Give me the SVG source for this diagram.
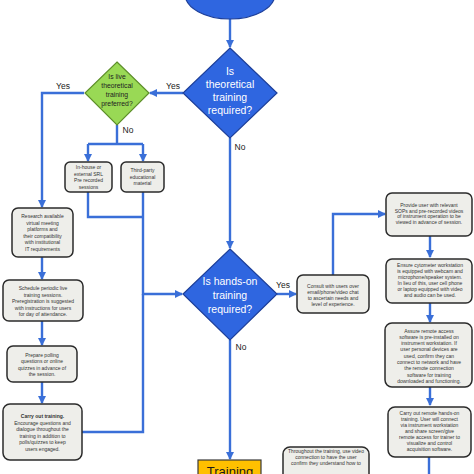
<svg xmlns="http://www.w3.org/2000/svg" width="474" height="474" viewBox="0 0 474 474">
<style>
.bg{fill:#ffffff}
.conn{fill:none;stroke:#3a6fd8;stroke-width:2.4}
.box{fill:#eeeeea;stroke:#2b2b2b;stroke-width:1.5}
.bt{font-family:"Liberation Sans",Arial,sans-serif;font-size:5px;fill:#333333;text-anchor:middle}
.dq{fill:#2f66e0;stroke:#1d3f9a;stroke-width:1.2}
.dt{font-family:"Liberation Sans",Arial,sans-serif;font-size:10.5px;fill:#ffffff;text-anchor:middle}
.gq{fill:#99d955;stroke:#5e8f2a;stroke-width:1.2}
.gt{font-family:"Liberation Sans",Arial,sans-serif;font-size:6.8px;fill:#222222;text-anchor:middle}
.lb{font-family:"Liberation Sans",Arial,sans-serif;font-size:8.5px;fill:#222222;text-anchor:middle}
</style>
<defs>
<marker id="ah" markerUnits="userSpaceOnUse" markerWidth="8" markerHeight="8" viewBox="0 0 8 8" refX="7" refY="4" orient="auto">
<path d="M0,0 L8,4 L0,8 Z" fill="#3a6fd8"/>
</marker>
</defs>
<rect class="bg" x="0" y="0" width="474" height="474"/>

<g id="connectors">
<path class="conn" d="M230,19 V47" marker-end="url(#ah)"/>
<path class="conn" d="M183,93 H150" marker-end="url(#ah)"/>
<path class="conn" d="M84,93 H42 V207" marker-end="url(#ah)"/>
<path class="conn" d="M117,125 V144 M88,144 H143"/>
<path class="conn" d="M88,144 V161" marker-end="url(#ah)"/>
<path class="conn" d="M143,144 V161" marker-end="url(#ah)"/>
<path class="conn" d="M88,192 V217 H143"/>
<path class="conn" d="M143,192 V294 H182" marker-end="url(#ah)"/>
<path class="conn" d="M82,432 H143 V294"/>
<path class="conn" d="M230,138 V248" marker-end="url(#ah)"/>
<path class="conn" d="M42,257 V279" marker-end="url(#ah)"/>
<path class="conn" d="M42,321 V345" marker-end="url(#ah)"/>
<path class="conn" d="M42,382 V403" marker-end="url(#ah)"/>
<path class="conn" d="M277,294 H296" marker-end="url(#ah)"/>
<path class="conn" d="M333,275 V214 H385" marker-end="url(#ah)"/>
<path class="conn" d="M430,236 V257" marker-end="url(#ah)"/>
<path class="conn" d="M430,303 V322" marker-end="url(#ah)"/>
<path class="conn" d="M430,387 V405" marker-end="url(#ah)"/>
<path class="conn" d="M429,457 V474"/>
<path class="conn" d="M230,340 V459" marker-end="url(#ah)"/>
</g>

<g id="labels">
<text class="lb" x="173" y="89">Yes</text>
<text class="lb" x="63" y="89">Yes</text>
<text class="lb" x="128" y="133">No</text>
<text class="lb" x="240" y="150">No</text>
<text class="lb" x="283" y="288">Yes</text>
<text class="lb" x="241" y="350">No</text>
</g>

<g id="start">
<ellipse cx="230" cy="-6" rx="45" ry="25" class="dq"/>
<text class="dt" x="230" y="-3">Remote training</text>
</g>

<g id="q-theoretical">
<polygon class="dq" points="230,48 277,93 230,138 183,93"/>
<text class="dt" x="230" y="75">Is</text>
<text class="dt" x="230" y="88">theoretical</text>
<text class="dt" x="230" y="101">training</text>
<text class="dt" x="230" y="114">required?</text>
</g>

<g id="q-live">
<polygon class="gq" points="117,62 149,93 117,125 85,93"/>
<text class="gt" x="117" y="79">Is live</text>
<text class="gt" x="117" y="88">theoretical</text>
<text class="gt" x="117" y="97">training</text>
<text class="gt" x="117" y="106">preferred?</text>
</g>

<g id="inhouse">
<rect class="box" x="65" y="162" width="47" height="30" rx="5"/>
<text class="bt" x="88.5" y="169">In-house or</text>
<text class="bt" x="88.5" y="175.5">external SRL</text>
<text class="bt" x="88.5" y="182">Pre recorded</text>
<text class="bt" x="88.5" y="188.5">sessions</text>
</g>

<g id="thirdparty">
<rect class="box" x="121" y="162" width="43" height="30" rx="5"/>
<text class="bt" x="142.5" y="172">Third-party</text>
<text class="bt" x="142.5" y="178.5">educational</text>
<text class="bt" x="142.5" y="185">material</text>
</g>

<g id="research">
<rect class="box" x="12" y="208" width="61" height="49" rx="6"/>
<text class="bt" x="42.5" y="218">Research available</text>
<text class="bt" x="42.5" y="224.6">virtual meeting</text>
<text class="bt" x="42.5" y="231.2">platforms and</text>
<text class="bt" x="42.5" y="237.8">their compatibility</text>
<text class="bt" x="42.5" y="244.4">with institutional</text>
<text class="bt" x="42.5" y="251">IT requirements</text>
</g>

<g id="schedule">
<rect class="box" x="3" y="280" width="80" height="41" rx="6"/>
<text class="bt" x="43" y="290">Schedule periodic live</text>
<text class="bt" x="43" y="296.5">training sessions.</text>
<text class="bt" x="43" y="303">Preregistration is suggested</text>
<text class="bt" x="43" y="309.5">with instructions for users</text>
<text class="bt" x="43" y="316">for day of attendance.</text>
</g>

<g id="prepare">
<rect class="box" x="7" y="346" width="70" height="36" rx="6"/>
<text class="bt" x="42" y="356.5">Prepare polling</text>
<text class="bt" x="42" y="363">questions or online</text>
<text class="bt" x="42" y="369.5">quizzes in advance of</text>
<text class="bt" x="42" y="376">the session.</text>
</g>

<g id="carryout">
<rect class="box" x="3" y="404" width="79" height="56" rx="7"/>
<text class="bt" x="42.5" y="418" font-weight="bold">Carry out training.</text>
<text class="bt" x="42.5" y="424.6">Encourage questions and</text>
<text class="bt" x="42.5" y="431.2">dialogue throughout the</text>
<text class="bt" x="42.5" y="437.8">training in addition to</text>
<text class="bt" x="42.5" y="444.4">polls/quizzes to keep</text>
<text class="bt" x="42.5" y="451">users engaged.</text>
</g>

<g id="q-handson">
<polygon class="dq" points="230,249 277,294 230,340 183,294"/>
<text class="dt" x="230" y="285">Is hands-on</text>
<text class="dt" x="230" y="299">training</text>
<text class="dt" x="230" y="313">required?</text>
</g>

<g id="consult">
<rect class="box" x="297" y="275" width="72" height="38" rx="6"/>
<text class="bt" x="333" y="287.5">Consult with users over</text>
<text class="bt" x="333" y="293.8">email/phone/video chat</text>
<text class="bt" x="333" y="300.1">to ascertain needs and</text>
<text class="bt" x="333" y="306.4">level of experience.</text>
</g>

<g id="provide">
<rect class="box" x="386" y="193" width="86" height="43" rx="6"/>
<text class="bt" x="429" y="207">Provide user with relevant</text>
<text class="bt" x="429" y="212.5">SOPs and pre-recorded videos</text>
<text class="bt" x="429" y="218">of instrument operation to be</text>
<text class="bt" x="429" y="223.5">viewed in advance of session.</text>
</g>

<g id="ensure">
<rect class="box" x="386" y="259" width="86" height="44" rx="6"/>
<text class="bt" x="430" y="266.5">Ensure cytometer workstation</text>
<text class="bt" x="430" y="272.5">is equipped with webcam and</text>
<text class="bt" x="430" y="278.5">microphone/speaker system.</text>
<text class="bt" x="430" y="284.5">In lieu of this, user cell phone</text>
<text class="bt" x="430" y="290.5">or laptop equipped with video</text>
<text class="bt" x="430" y="296.5">and audio can be used.</text>
</g>

<g id="assure">
<rect class="box" x="385" y="323" width="87" height="64" rx="7"/>
<text class="bt" x="429" y="332.5">Assure remote access</text>
<text class="bt" x="429" y="338.8">software is pre-installed on</text>
<text class="bt" x="429" y="345.1">instrument workstation. If</text>
<text class="bt" x="429" y="351.4">user personal devices are</text>
<text class="bt" x="429" y="357.7">used, confirm they can</text>
<text class="bt" x="429" y="364">connect to network and have</text>
<text class="bt" x="429" y="370.3">the remote connection</text>
<text class="bt" x="429" y="376.6">software for training</text>
<text class="bt" x="429" y="382.9">downloaded and functioning.</text>
</g>

<g id="remote">
<rect class="box" x="388" y="407" width="83" height="50" rx="7"/>
<text class="bt" x="429.5" y="414.5">Carry out remote hands-on</text>
<text class="bt" x="429.5" y="420.5">training. User will connect</text>
<text class="bt" x="429.5" y="426.5">via instrument workstation</text>
<text class="bt" x="429.5" y="432.5">and share screen/give</text>
<text class="bt" x="429.5" y="438.5">remote access for trainer to</text>
<text class="bt" x="429.5" y="444.5">visualize and control</text>
<text class="bt" x="429.5" y="450.5">acquisition software.</text>
</g>

<g id="throughout">
<rect class="box" x="283" y="447" width="86" height="40" rx="7"/>
<text class="bt" x="326" y="452.5">Throughout the training, use video</text>
<text class="bt" x="326" y="458.5">connection to have the user</text>
<text class="bt" x="326" y="464.5">confirm they understand how to</text>
</g>

<g id="training">
<rect x="198" y="460" width="63" height="24" fill="#ffc000" stroke="#3a3a3a" stroke-width="1.2"/>
<text x="230" y="476" font-family="'Liberation Sans',Arial,sans-serif" font-size="13" fill="#1a1a1a" text-anchor="middle">Training</text>
</g>
</svg>
